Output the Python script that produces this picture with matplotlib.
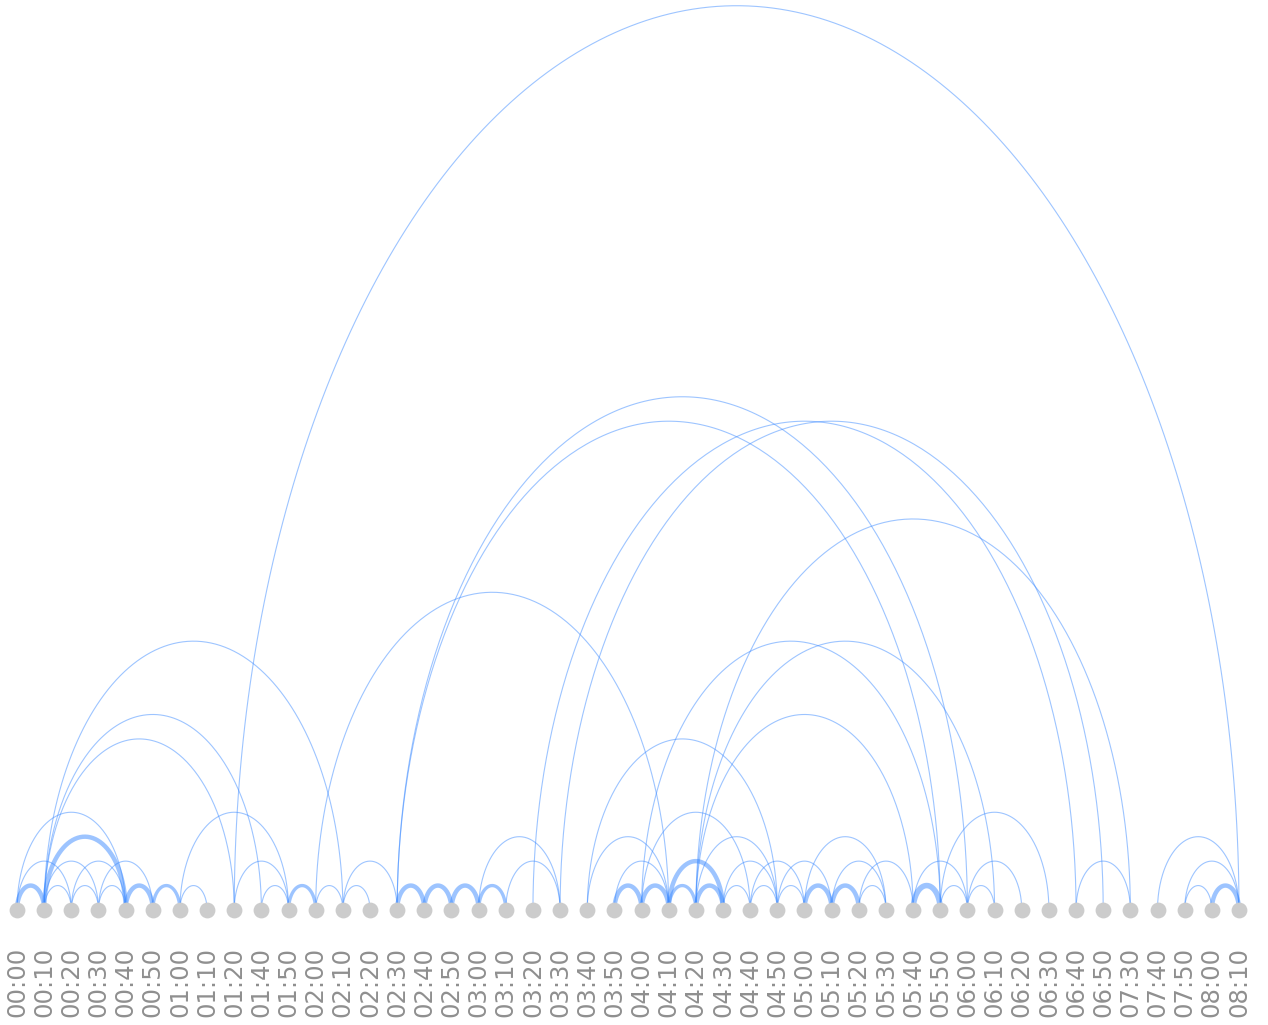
import numpy as np
import matplotlib
matplotlib.use("Agg")
import matplotlib.pyplot as plt

# Time slots (nodes along the baseline)
labels = ["00:00", "00:10", "00:20", "00:30", "00:40", "00:50", "01:00", "01:10",
          "01:20", "01:40", "01:50", "02:00", "02:10", "02:20", "02:30", "02:40",
          "02:50", "03:00", "03:10", "03:20", "03:30", "03:40", "03:50", "04:00",
          "04:10", "04:20", "04:30", "04:40", "04:50", "05:00", "05:10", "05:20",
          "05:30", "05:40", "05:50", "06:00", "06:10", "06:20", "06:30", "06:40",
          "06:50", "07:30", "07:40", "07:50", "08:00", "08:10"]

# Links between time slots: source, target, weight
src = ["01:20", "02:30", "02:30", "03:20", "03:30", "04:20", "02:00", "00:10",
       "00:10", "00:10", "03:40", "04:00", "04:20", "04:20",
       "00:00", "01:00", "04:00", "05:50",
       "00:10", "03:00", "03:40", "04:20", "07:40", "05:00",
       "00:00", "00:10", "00:20", "00:30", "01:20", "02:10", "03:10", "04:10",
       "03:50", "04:30", "04:40", "04:50", "05:10", "05:20", "05:40", "06:00",
       "06:40", "07:50",
       "00:00", "00:10", "00:20", "00:30", "00:40", "00:50", "01:00", "01:40",
       "01:50", "02:00", "02:10", "02:30", "02:40", "02:50", "03:00", "03:50",
       "04:00", "04:10", "04:20", "04:30", "04:40", "04:50", "05:00", "05:10",
       "05:20", "05:40", "05:50", "06:00", "07:50", "08:00"]
dst = ["08:10", "06:00", "05:50", "06:40", "06:50", "07:30", "04:10", "02:10",
       "01:40", "01:20", "04:50", "05:50", "06:10", "05:40",
       "00:40", "01:50", "04:40", "06:30",
       "00:40", "03:30", "04:10", "04:50", "08:10", "05:30",
       "00:20", "00:30", "00:40", "00:50", "01:50", "02:30", "03:30", "04:30",
       "04:10", "04:50", "05:00", "05:10", "05:30", "05:40", "06:00", "06:20",
       "07:30", "08:10",
       "00:10", "00:20", "00:30", "00:40", "00:50", "01:00", "01:10", "01:50",
       "02:00", "02:10", "02:20", "02:40", "02:50", "03:00", "03:10", "04:00",
       "04:10", "04:20", "04:30", "04:40", "04:50", "05:00", "05:10", "05:20",
       "05:30", "05:50", "06:00", "06:10", "08:00", "08:10"]
weight = [1, 1, 1, 1, 1, 1, 1, 1,
          1, 1, 1, 1, 1, 1,
          1, 1, 1, 1,
          4, 1, 1, 1, 1, 1,
          1, 1, 1, 1, 1, 1, 1, 4,
          1, 1, 1, 1, 1, 1, 1, 1,
          1, 1,
          4, 1, 1, 1, 4, 3, 1, 1,
          3, 1, 1, 4, 4, 4, 3, 4,
          4, 3, 4, 1, 1, 1, 4, 4,
          1, 5, 1, 1, 1, 4]

W, H = 1268, 1025
fig = plt.figure(figsize=(W / 100, H / 100), dpi=100)
ax = fig.add_axes([0, 0, 1, 1])
ax.set_axis_off()

step = 27.155          # node spacing in pixels
x0 = 17.0              # first node, pixels from left
base = 910.0           # baseline, pixels from top
hscale = 24.44         # arc height per unit span, pixels
ax.set_xlim(-x0 / step, (W - x0) / step)
ax.set_ylim(-(H - base) / hscale, base / hscale)

pos = {lab: i for i, lab in enumerate(labels)}
t = np.linspace(0, np.pi, 200)
for s, d, w in zip(src, dst, weight):
    a, b = pos[s], pos[d]
    c = (a + b) / 2
    r = abs(b - a) / 2
    ax.plot(c + r * np.cos(t), 2 * r * np.sin(t), color="#3d8bff",
            alpha=0.5, lw=0.8 * w, solid_capstyle="butt", zorder=1)

xs = np.arange(len(labels))
ax.scatter(xs, np.zeros_like(xs), s=130, color="#cccccc", zorder=3, lw=0)

for i, lab in enumerate(labels):
    ax.text(i, -(947 - base) / hscale, lab, rotation=90, ha="center", va="top",
            fontsize=17.5, color="#8f8f8f", family="DejaVu Sans")

fig.savefig("out.png", dpi=100)
